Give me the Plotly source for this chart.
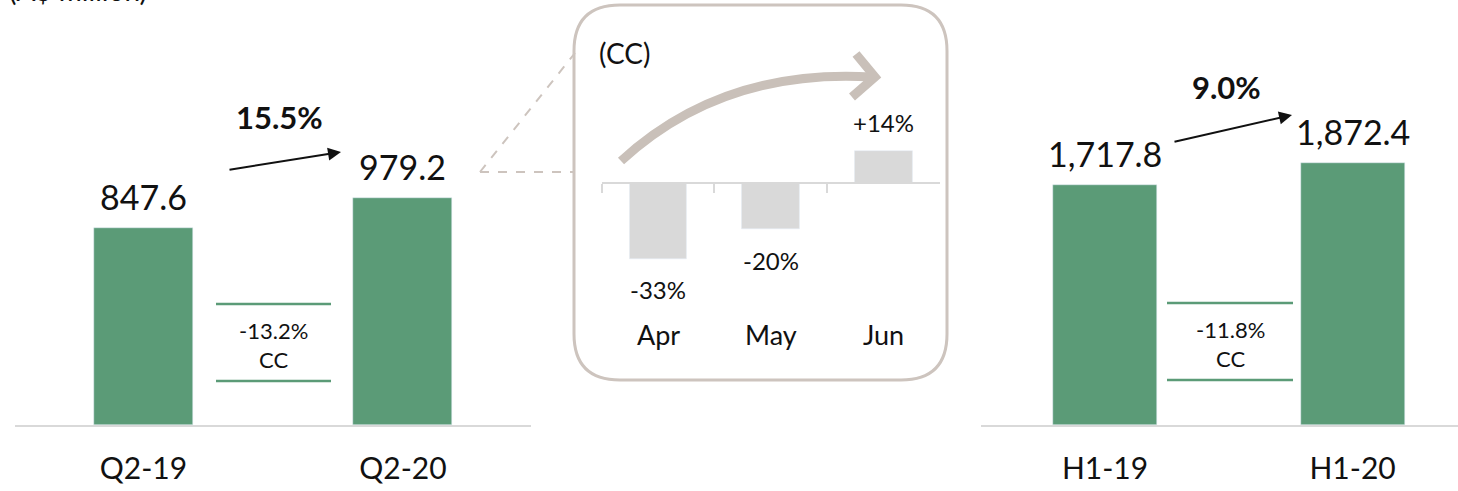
import plotly.graph_objects as go

# ---- data ----
quarter_labels = ["Q2-19", "Q2-20"]
quarter_values = [847.6, 979.2]
quarter_growth = "15.5%"
quarter_cc = "-13.2%"

half_labels = ["H1-19", "H1-20"]
half_values = [1717.8, 1872.4]
half_growth = "9.0%"
half_cc = "-11.8%"

month_labels = ["Apr", "May", "Jun"]
month_cc_growth = [-33, -20, 14]

unit_label = "(A$ million)"

# ---- styling ----
W, H = 1458, 491
FONT = "Lato"
INK = "#111111"
GREEN = "#5b9b77"
LIGHT_GREY = "#d9d9d9"
TAUPE = "#cdc4be"


def px(x):
    return x / W


def py(y):
    return 1 - y / H


def pt(x, y):
    return f"{px(x):.5f},{py(y):.5f}"


def paper_text(x, y, text, size, **kw):
    opts = dict(x=px(x), y=py(y), xref="paper", yref="paper", text=text,
                showarrow=False, xanchor="center", yanchor="middle",
                font=dict(family=FONT, size=size, color=INK))
    opts.update(kw)
    return opts


fig = go.Figure()

# main bars
fig.add_trace(go.Bar(x=quarter_labels, y=quarter_values, marker_color=GREEN,
                     width=0.3815, xaxis="x", yaxis="y", hoverinfo="skip"))
fig.add_trace(go.Bar(x=half_labels, y=half_values, marker_color=GREEN,
                     width=0.42, xaxis="x2", yaxis="y2", hoverinfo="skip"))
# monthly constant-currency inset
fig.add_trace(go.Bar(x=month_labels, y=month_cc_growth, marker_color=LIGHT_GREY,
                     width=0.51, xaxis="x3", yaxis="y3", hoverinfo="skip"))

base_x = dict(showgrid=False, zeroline=False, showline=True, linecolor=LIGHT_GREY,
              linewidth=2, ticks="outside", ticklen=16, tickcolor="rgba(0,0,0,0)",
              tickfont=dict(family=FONT, size=30, color=INK), fixedrange=True)
base_y = dict(visible=False, showgrid=False, zeroline=False, fixedrange=True)

annotations = []
shapes = []


def value_labels(cats, vals, xref, yref):
    for c, v in zip(cats, vals):
        annotations.append(dict(x=c, y=v, xref=xref, yref=yref, text=f"{v:,.1f}",
                                showarrow=False, xanchor="center", yanchor="bottom",
                                yshift=9, font=dict(family=FONT, size=34, color=INK)))


value_labels(quarter_labels, quarter_values, "x", "y")
value_labels(half_labels, half_values, "x2", "y2")


def growth_arrow(tail, tip, label, label_pos):
    annotations.append(dict(x=px(tip[0]), y=py(tip[1]), xref="paper", yref="paper",
                            ax=tail[0] - tip[0], ay=tail[1] - tip[1],
                            axref="pixel", ayref="pixel", text="", showarrow=True,
                            arrowhead=2, arrowsize=1.3, arrowwidth=2, arrowcolor=INK))
    annotations.append(paper_text(label_pos[0], label_pos[1], f"<b>{label}</b>", 31))


growth_arrow((228, 170), (341, 152), quarter_growth, (279, 117))
growth_arrow((1173, 142), (1292, 115), half_growth, (1226, 87))


def cc_box(x0, x1, ytop, ybot, text):
    for yy in (ytop, ybot):
        shapes.append(dict(type="line", xref="paper", yref="paper",
                           x0=px(x0), x1=px(x1), y0=py(yy), y1=py(yy),
                           line=dict(color=GREEN, width=2.5)))
    cx = (x0 + x1) / 2
    annotations.append(paper_text(cx, (ytop + ybot) / 2 + 2, f"{text}<br>CC", 22))


cc_box(216, 331, 304, 381, quarter_cc)
cc_box(1167, 1293, 303, 380, half_cc)

# inset frame (rounded rectangle)
x0, x1, y0, y1, r = 574, 947, 5, 380, 46
frame = (f"M {pt(x0 + r, y0)} L {pt(x1 - r, y0)} Q {pt(x1, y0)} {pt(x1, y0 + r)} "
         f"L {pt(x1, y1 - r)} Q {pt(x1, y1)} {pt(x1 - r, y1)} "
         f"L {pt(x0 + r, y1)} Q {pt(x0, y1)} {pt(x0, y1 - r)} "
         f"L {pt(x0, y0 + r)} Q {pt(x0, y0)} {pt(x0 + r, y0)} Z")
shapes.append(dict(type="path", xref="paper", yref="paper", path=frame,
                   line=dict(color=TAUPE, width=3), layer="below"))

# dashed callout lines from the Q2-20 value to the inset
shapes.append(dict(type="line", xref="paper", yref="paper", x0=px(480), y0=py(172),
                   x1=px(575), y1=py(53), line=dict(color=TAUPE, width=2, dash="dash")))
shapes.append(dict(type="line", xref="paper", yref="paper", x0=px(480), y0=py(172),
                   x1=px(573), y1=py(172), line=dict(color=TAUPE, width=2, dash="dash")))

# curved trend arrow inside the inset
ARROW_C = "#c9c0b9"
shapes.append(dict(type="path", xref="paper", yref="paper",
                   path=f"M {pt(621, 161)} Q {pt(722, 68)} {pt(872, 77)}",
                   line=dict(color=ARROW_C, width=9)))
shapes.append(dict(type="path", xref="paper", yref="paper",
                   path=f"M {pt(856, 54)} L {pt(875, 77)} L {pt(852, 97)}",
                   line=dict(color=ARROW_C, width=9)))

# inset labels
annotations.append(paper_text(597, 53, "(CC)", 28, xanchor="left"))
for m, v in zip(month_labels, month_cc_growth):
    annotations.append(dict(x=m, y=v, xref="x3", yref="y3",
                            text=f"{'+' if v > 0 else ''}{v}%", showarrow=False,
                            xanchor="center", yanchor="middle",
                            yshift=28 if v > 0 else -31,
                            font=dict(family=FONT, size=24, color=INK)))
    annotations.append(dict(x=m, y=py(334), xref="x3", yref="paper", text=m,
                            showarrow=False, xanchor="center", yanchor="middle",
                            font=dict(family=FONT, size=27, color=INK)))

# unit label, running off the top edge
annotations.append(paper_text(7, -10, unit_label, 28, xanchor="left"))

fig.update_layout(
    width=W, height=H, margin=dict(l=0, r=0, t=0, b=0),
    paper_bgcolor="white", plot_bgcolor="rgba(0,0,0,0)",
    showlegend=False, bargap=0,
    xaxis=dict(base_x, domain=[px(15), px(531)], range=[-0.4952, 1.4933], anchor="y"),
    yaxis=dict(base_y, domain=[py(425), 1], range=[0, 1832], anchor="x"),
    xaxis2=dict(base_x, domain=[px(981), px(1458)], range=[-0.501, 1.426], anchor="y2"),
    yaxis2=dict(base_y, domain=[py(425), 1], range=[0, 3040], anchor="x2"),
    xaxis3=dict(showgrid=False, zeroline=False, showline=True, linecolor=LIGHT_GREY,
                linewidth=2, ticks="outside", tickson="boundaries", ticklen=9,
                tickcolor=LIGHT_GREY, tickwidth=2, showticklabels=False,
                domain=[px(601.7), px(940)], range=[-0.5, 2.5],
                anchor="free", position=py(183), fixedrange=True),
    yaxis3=dict(base_y, domain=[py(300), py(100)],
                range=[-(300 - 183) / 2.3, (183 - 100) / 2.3], anchor="x3"),
    annotations=annotations, shapes=shapes,
)

fig.write_html("out.html")
